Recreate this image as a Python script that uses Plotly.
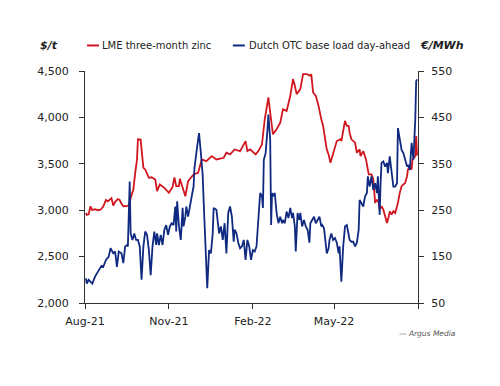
import plotly.graph_objects as go

# ---------------- data ----------------
zinc_dates = [
    "2021-08-02","2021-08-03","2021-08-05","2021-08-07","2021-08-09","2021-08-12","2021-08-15","2021-08-18",
    "2021-08-21","2021-08-24","2021-08-26","2021-08-28","2021-08-30","2021-09-01","2021-09-03","2021-09-06",
    "2021-09-08","2021-09-10","2021-09-12","2021-09-15","2021-09-18","2021-09-20","2021-09-23","2021-09-25",
    "2021-09-27","2021-09-28","2021-10-01","2021-10-02","2021-10-04","2021-10-06","2021-10-10","2021-10-13",
    "2021-10-17","2021-10-19","2021-10-22","2021-10-27","2021-11-01","2021-11-05","2021-11-07","2021-11-09",
    "2021-11-12","2021-11-13","2021-11-16","2021-11-19","2021-11-22","2021-11-28","2021-12-03","2021-12-07",
    "2021-12-12","2021-12-18","2021-12-23","2021-12-31","2022-01-03","2022-01-07","2022-01-12","2022-01-18",
    "2022-01-24","2022-01-26","2022-01-29","2022-02-02","2022-02-04","2022-02-07","2022-02-11","2022-02-14",
    "2022-02-16","2022-02-18","2022-02-20","2022-02-22","2022-02-23","2022-02-27","2022-03-03","2022-03-06",
    "2022-03-10","2022-03-14","2022-03-17","2022-03-19","2022-03-21","2022-03-25","2022-03-27","2022-03-28",
    "2022-04-01","2022-04-05","2022-04-06","2022-04-08","2022-04-11","2022-04-14","2022-04-17","2022-04-19",
    "2022-04-23","2022-04-25","2022-04-27","2022-04-28","2022-05-01","2022-05-04","2022-05-08","2022-05-09",
    "2022-05-13","2022-05-15","2022-05-17","2022-05-18","2022-05-20","2022-05-24","2022-05-26","2022-05-29",
    "2022-05-30","2022-06-02","2022-06-05","2022-06-08","2022-06-11","2022-06-13","2022-06-15","2022-06-17",
    "2022-06-19","2022-06-20","2022-06-22","2022-06-24","2022-06-26","2022-06-28","2022-06-30","2022-07-01",
    "2022-07-03","2022-07-05","2022-07-07","2022-07-09","2022-07-10","2022-07-12","2022-07-14","2022-07-16",
    "2022-07-18","2022-07-20","2022-07-21","2022-07-23","2022-07-25","2022-07-26","2022-07-28","2022-07-29",
    "2022-07-30","2022-07-31",
]
zinc_values = [
    2970, 2950, 2955, 3042, 3000, 3010, 3000, 3005,
    3040, 3110, 3095, 3115, 3130, 3050, 3090, 3120,
    3110, 3070, 3042, 3045, 3050, 3130, 3223, 3400,
    3547, 3764, 3760, 3655, 3457, 3439, 3349, 3355,
    3331, 3205, 3277, 3241, 3187, 3250, 3352, 3259,
    3259, 3340, 3250, 3150, 3313, 3385, 3403, 3547,
    3529, 3583, 3547, 3565, 3619, 3601, 3655, 3637,
    3745, 3637, 3655, 3619, 3601, 3637, 3710, 3980,
    4088, 4215, 4052, 3908, 3818, 3872, 3944, 4088,
    4070, 4232, 4413, 4341, 4251, 4305, 4413, 4467,
    4467, 4449, 4467, 4269, 4232, 4124, 3980, 3908,
    3655, 3601, 3511, 3547, 3655, 3745, 3764, 3745,
    3962, 3908, 3908, 3836, 3764, 3728, 3619, 3655,
    3583, 3637, 3547, 3385, 3385, 3334, 3079, 3114,
    3079, 3006, 3042, 3006, 2934, 2862, 2934, 2988,
    2952, 2988, 2970, 3042, 3079, 3187, 3259, 3277,
    3295, 3367, 3439, 3457, 3439, 3547, 3565, 3583,
    3800, 3590,
]

power_dates = [
    "2021-08-02","2021-08-03","2021-08-05","2021-08-07","2021-08-09","2021-08-12","2021-08-16","2021-08-19",
    "2021-08-21","2021-08-24","2021-08-27","2021-08-29","2021-09-01","2021-09-03","2021-09-05","2021-09-07",
    "2021-09-10","2021-09-12","2021-09-14","2021-09-16","2021-09-17","2021-09-19","2021-09-20","2021-09-22",
    "2021-09-24","2021-09-26","2021-09-28","2021-09-30","2021-10-02","2021-10-04","2021-10-06","2021-10-08",
    "2021-10-10","2021-10-12","2021-10-14","2021-10-16","2021-10-18","2021-10-19","2021-10-21","2021-10-23",
    "2021-10-25","2021-10-27","2021-10-29","2021-10-31","2021-11-02","2021-11-04","2021-11-06","2021-11-08",
    "2021-11-09","2021-11-10","2021-11-12","2021-11-14","2021-11-16","2021-11-17","2021-11-19","2021-11-20",
    "2021-11-22","2021-11-24","2021-11-26","2021-11-28","2021-11-29","2021-12-02","2021-12-04","2021-12-06",
    "2021-12-08","2021-12-09","2021-12-11","2021-12-13","2021-12-15","2021-12-17","2021-12-19","2021-12-20",
    "2021-12-23","2021-12-26","2021-12-28","2021-12-30","2022-01-01","2022-01-03","2022-01-05","2022-01-07",
    "2022-01-09","2022-01-11","2022-01-12","2022-01-14","2022-01-16","2022-01-18","2022-01-20","2022-01-22",
    "2022-01-24","2022-01-26","2022-01-28","2022-01-30","2022-02-01","2022-02-03","2022-02-05","2022-02-07",
    "2022-02-09","2022-02-11","2022-02-12","2022-02-13","2022-02-15","2022-02-17","2022-02-18","2022-02-20",
    "2022-02-21","2022-02-22","2022-02-23","2022-02-25","2022-02-27","2022-03-01","2022-03-03","2022-03-05",
    "2022-03-06","2022-03-08","2022-03-10","2022-03-12","2022-03-14","2022-03-16","2022-03-17","2022-03-19",
    "2022-03-20","2022-03-22","2022-03-24","2022-03-25","2022-03-27","2022-03-29","2022-03-31","2022-04-02",
    "2022-04-04","2022-04-05","2022-04-07","2022-04-09","2022-04-11","2022-04-13","2022-04-15","2022-04-17",
    "2022-04-18","2022-04-20","2022-04-21","2022-04-23","2022-04-25","2022-04-26","2022-04-28","2022-04-30",
    "2022-05-02","2022-05-04","2022-05-06","2022-05-07","2022-05-09","2022-05-11","2022-05-13","2022-05-15",
    "2022-05-17","2022-05-18","2022-05-20","2022-05-22","2022-05-24","2022-05-26","2022-05-28","2022-05-29",
    "2022-05-31","2022-06-02","2022-06-04","2022-06-06","2022-06-07","2022-06-09","2022-06-11","2022-06-13",
    "2022-06-15","2022-06-17","2022-06-18","2022-06-20","2022-06-21","2022-06-22","2022-06-24","2022-06-26",
    "2022-06-28","2022-06-29","2022-07-01","2022-07-03","2022-07-05","2022-07-07","2022-07-09","2022-07-10",
    "2022-07-12","2022-07-14","2022-07-16","2022-07-18","2022-07-20","2022-07-21","2022-07-23","2022-07-25",
    "2022-07-27","2022-07-29","2022-07-30","2022-07-31",
]
power_values = [
    103, 92, 100, 96, 92, 107, 121, 130,
    128, 143, 150, 168, 157, 161, 128, 161,
    157, 136, 172, 175, 172, 312, 200, 186,
    200, 186, 186, 172, 100, 172, 204, 197,
    164, 110, 172, 204, 175, 200, 175, 197,
    175, 208, 218, 197, 215, 222, 218, 258,
    204, 269, 215, 186, 255, 215, 236, 258,
    236, 262, 280, 301, 341, 388, 416, 373,
    326, 272, 193, 82, 164, 157, 200, 255,
    251, 200, 215, 186, 222, 157, 244, 258,
    236, 182, 208, 200, 180, 168, 172, 186,
    143, 186, 172, 143, 164, 161, 172, 233,
    287, 280, 255, 359, 373, 424, 456, 402,
    218, 287, 280, 287, 244, 222, 236, 222,
    229, 222, 247, 233, 255, 233, 244, 215,
    161, 244, 229, 244, 215, 229, 215, 208,
    180, 222, 229, 236, 222, 229, 236, 215,
    218, 211, 190, 157, 168, 186, 200, 186,
    190, 180, 157, 172, 96, 172, 215, 218,
    197, 186, 182, 182, 172, 180, 208, 272,
    265, 258, 280, 287, 323, 301, 323, 294,
    308, 287, 323, 240, 308, 352, 355, 344,
    352, 330, 366, 330, 301, 301, 308, 427,
    402, 380, 373, 359, 344, 348, 337, 395,
    359, 445, 528, 532,
]

x_tick_vals = ["2021-08-01", "2021-11-01", "2022-02-01", "2022-05-01", "2022-08-01"]
x_tick_text = ["Aug-21", "Nov-21", "Feb-22", "May-22", ""]
zinc_name = "LME three-month zinc"
power_name = "Dutch OTC base load day-ahead"

RED = "#d0161e"
BLUE = "#0f2a80"
AXIS = "#333333"
FONT = "DejaVu Sans"

fig = go.Figure()
fig.add_trace(go.Scatter(x=zinc_dates, y=zinc_values, mode="lines", name=zinc_name,
                         line=dict(color=RED, width=1.8), yaxis="y"))
fig.add_trace(go.Scatter(x=power_dates, y=power_values, mode="lines", name=power_name,
                         line=dict(color=BLUE, width=1.8), yaxis="y2"))

axis_common = dict(showline=True, linecolor=AXIS, linewidth=1, ticks="outside", ticklen=5,
                   tickcolor=AXIS, showgrid=False, zeroline=False,
                   tickfont=dict(family=FONT, size=11, color="#222222"))

fig.update_layout(
    width=492, height=378,
    margin=dict(l=77, r=82, t=63, b=83),
    paper_bgcolor="white", plot_bgcolor="white",
    showlegend=False,
    font=dict(family=FONT, size=11, color="#222222"),
    xaxis=dict(type="date", range=["2021-08-01", "2022-08-01"],
               tickmode="array", tickvals=x_tick_vals, ticktext=x_tick_text,
               ticklabelstandoff=3, **axis_common),
    yaxis=dict(range=[2000, 4500], tickmode="linear", tick0=2000, dtick=500,
               tickformat=",d", ticklabelstandoff=8, **axis_common),
    yaxis2=dict(range=[50, 550], tickmode="linear", tick0=50, dtick=100, overlaying="y",
                side="right", ticklabelstandoff=5, **axis_common),
)

leg_y = 1.11
fig.add_shape(type="line", xref="paper", yref="paper", x0=0.006, x1=0.042, y0=leg_y, y1=leg_y,
              line=dict(color=RED, width=2))
fig.add_shape(type="line", xref="paper", yref="paper", x0=0.444, x1=0.48, y0=leg_y, y1=leg_y,
              line=dict(color=BLUE, width=2))

def ann(text, x, y, size=11, color="#222222", xanchor="left"):
    fig.add_annotation(text=text, x=x, y=y, xref="paper", yref="paper", showarrow=False,
                       xanchor=xanchor, yanchor="middle", font=dict(family=FONT, size=size, color=color))

ann("<b><i>$/t</i></b>", -0.141, leg_y)
ann(zinc_name, 0.045, leg_y, size=10)
ann(power_name, 0.486, leg_y, size=10)
ann("<b><i>€/MWh</i></b>", 1.0, leg_y)
ann("<i>— Argus Media</i>", 1.12, -0.13, size=7.5, color="#555555", xanchor="right")

fig.write_html("out.html")
